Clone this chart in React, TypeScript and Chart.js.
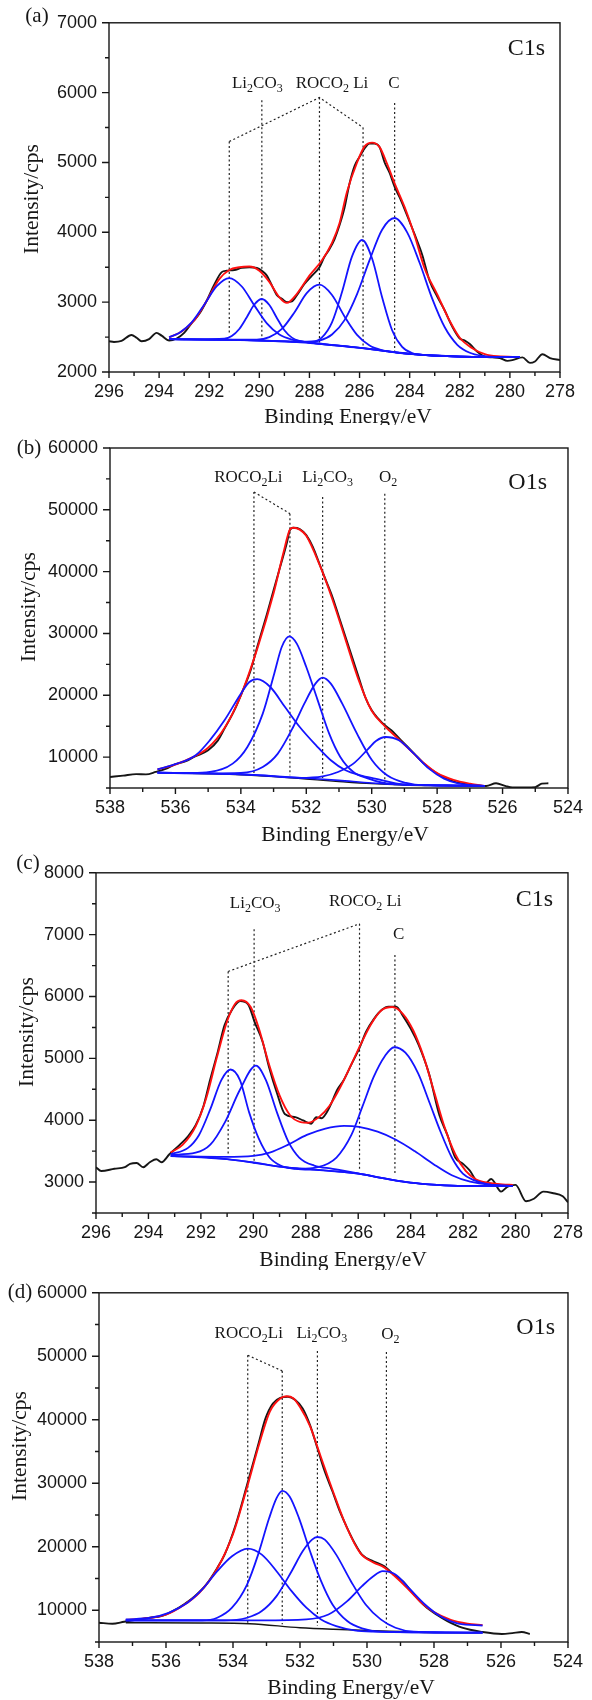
import React, { useEffect, useRef } from "react";
import { Chart, registerables } from "chart.js";

Chart.register(...registerables);

type Pt = [number, number];
type PeakLabel = { text: string; e: number; v: number };

// ================= Panel (a) : C1s =================
const aXTicks = [296, 294, 292, 290, 288, 286, 284, 282, 280, 278];
const aYTicks = [2000, 3000, 4000, 5000, 6000, 7000];
const aRaw: Pt[] = [
  [296, 2440], [295.8, 2430], [295.5, 2445], [295.1, 2530], [294.9, 2490], [294.7, 2440], [294.4, 2470],
  [294.1, 2560], [293.9, 2520], [293.6, 2450], [293.3, 2480], [293.0, 2560], [292.7, 2700], [292.4, 2830],
  [292.1, 3020], [291.8, 3250], [291.5, 3430], [291.3, 3450], [291.0, 3460], [290.7, 3490], [290.4, 3500],
  [290.1, 3490], [289.9, 3450], [289.7, 3380], [289.5, 3240], [289.3, 3100], [289.1, 3050], [288.9, 3000],
  [288.7, 3010], [288.5, 3100], [288.2, 3260], [287.9, 3380], [287.6, 3500], [287.4, 3650], [287.2, 3760],
  [287.0, 3900], [286.8, 4100], [286.6, 4350], [286.4, 4700], [286.2, 4950], [286.0, 5080], [285.8, 5200],
  [285.6, 5270], [285.4, 5270], [285.2, 5220], [285.0, 5000], [284.8, 4850], [284.6, 4650], [284.4, 4500],
  [284.2, 4330], [284.0, 4150], [283.8, 3970], [283.5, 3680], [283.2, 3300], [282.9, 3080], [282.6, 2880],
  [282.3, 2650], [282.0, 2480], [281.8, 2450], [281.6, 2400], [281.3, 2290], [281.0, 2220], [280.7, 2210],
  [280.4, 2200], [280.1, 2160], [279.9, 2170], [279.5, 2210], [279.2, 2130], [279.0, 2150], [278.7, 2255],
  [278.4, 2200], [278.0, 2170],
];
const aFit: Pt[] = [
  [293.6, 2495], [293.1, 2580], [292.6, 2740], [292.1, 3020], [291.6, 3330], [291.2, 3460], [290.8, 3500],
  [290.4, 3510], [290.0, 3450], [289.6, 3290], [289.2, 3070], [288.9, 2990], [288.5, 3120], [288.0, 3380],
  [287.5, 3600], [287.1, 3850], [286.8, 4130], [286.5, 4580], [286.1, 5000], [285.8, 5230], [285.5, 5285],
  [285.2, 5220], [284.9, 4980], [284.6, 4700], [284.2, 4360], [283.8, 3950], [283.4, 3480], [282.9, 3110],
  [282.4, 2730], [282.0, 2490], [281.5, 2340], [281.0, 2255], [280.5, 2225], [279.6, 2215],
];
const aBase: Pt[] = [
  [293.6, 2470], [292.5, 2466], [291.5, 2462], [290.5, 2456], [289.5, 2446], [288.5, 2428], [287.5, 2398],
  [286.5, 2365], [285.5, 2325], [284.5, 2278], [283.5, 2245], [282.5, 2228], [281.5, 2218], [280.5, 2213],
  [279.6, 2212],
];
const aPeak1: Pt[] = [
  [293.6, 2500], [293.2, 2558], [292.7, 2710], [292.2, 2963], [291.7, 3228], [291.2, 3345], [290.7, 3224],
  [290.2, 2954], [289.7, 2696], [289.2, 2537], [288.7, 2465], [288.2, 2432], [287.5, 2400], [286.5, 2366],
  [285.5, 2326], [284.5, 2279], [283.5, 2246], [282.5, 2228], [281.5, 2218], [279.6, 2212],
];
const aPeak2: Pt[] = [
  [293.6, 2470], [292.5, 2466], [291.4, 2476], [291.1, 2516], [290.8, 2616], [290.5, 2785], [290.2, 2966],
  [289.9, 3045], [289.6, 2960], [289.3, 2774], [289.0, 2598], [288.7, 2492], [288.4, 2445], [287.8, 2415],
  [287.0, 2385], [286.5, 2365], [285.5, 2325], [284.5, 2278], [283.5, 2245], [282.5, 2228], [281.5, 2218],
  [279.6, 2212],
];
const aPeak3: Pt[] = [
  [293.6, 2470], [291.5, 2462], [290.1, 2463], [289.6, 2499], [289.1, 2617], [288.6, 2853], [288.1, 3133],
  [287.6, 3250], [287.1, 3103], [286.6, 2795], [286.1, 2531], [285.6, 2378], [285.1, 2311], [284.5, 2278],
  [283.5, 2245], [282.5, 2228], [281.5, 2218], [279.6, 2212],
];
const aPeak4: Pt[] = [
  [293.6, 2470], [291.0, 2460], [289.0, 2438], [287.9, 2435], [287.5, 2496], [287.1, 2711], [286.7, 3145],
  [286.3, 3655], [285.9, 3890], [285.5, 3625], [285.1, 3070], [284.7, 2598], [284.3, 2361], [283.9, 2272],
  [283.3, 2240], [282.5, 2228], [281.5, 2218], [279.6, 2212],
];
const aPeak5: Pt[] = [
  [293.6, 2470], [291.0, 2460], [289.0, 2438], [288.1, 2431], [287.6, 2448], [287.1, 2536], [286.6, 2743],
  [286.1, 3116], [285.6, 3601], [285.1, 4038], [284.6, 4205], [284.1, 4000], [283.6, 3560], [283.1, 3050],
  [282.6, 2640], [282.1, 2390], [281.6, 2275], [281.1, 2230], [280.6, 2215], [279.6, 2212],
];
const aGuides: Pt[][] = [
  [[291.2, 5300], [291.2, 2540]],
  [[289.9, 5890], [289.9, 2450]],
  [[287.6, 5930], [287.6, 2400]],
  [[285.86, 5500], [285.86, 2340]],
  [[284.6, 5850], [284.6, 2270]],
  [[291.2, 5300], [287.6, 5930], [285.86, 5500]],
];
const aPeakLabels: PeakLabel[] = [
  { text: "Li_2CO_3", e: 290.08, v: 6130 },
  { text: "ROCO_2 Li", e: 287.1, v: 6130 },
  { text: "C", e: 284.63, v: 6130 },
];

// ================= Panel (b) : O1s =================
const bXTicks = [538, 536, 534, 532, 530, 528, 526, 524];
const bYTicks = [10000, 20000, 30000, 40000, 50000, 60000];
const bRaw: Pt[] = [
  [538, 6780], [537.6, 7000], [537.2, 7250], [536.9, 7200], [536.6, 7600], [536.3, 8100], [536.0, 8850],
  [535.7, 9300], [535.4, 10100], [535.0, 11100], [534.7, 12700], [534.5, 14600], [534.2, 17560], [534.0, 20000],
  [533.7, 24040], [533.5, 27810], [533.2, 33200], [533.0, 36980], [532.8, 40750], [532.6, 44520], [532.5, 46700],
  [532.4, 47100], [532.2, 46900], [532.0, 45900], [531.8, 43990], [531.6, 41290], [531.4, 38590], [531.2, 35900],
  [531.0, 32660], [530.8, 29430], [530.6, 26190], [530.4, 22960], [530.2, 19720], [530.0, 17560], [529.8, 16220],
  [529.6, 15140], [529.4, 14330], [529.2, 13250], [529.0, 12170], [528.7, 10550], [528.4, 8940], [528.0, 7320],
  [527.6, 6240], [527.2, 5700], [526.8, 5430], [526.5, 5330], [526.2, 5760], [525.9, 5300], [525.7, 5100],
  [525.3, 5100], [525.0, 5150], [524.8, 5700], [524.6, 5760],
];
const bBack: Pt[] = [
  [536.5, 7450], [535.0, 7300], [534.0, 7150], [533.0, 6850], [532.5, 6650], [532.0, 6450], [531.0, 6050],
  [530.0, 5700], [529.0, 5480], [528.0, 5380], [526.55, 5300],
];
const bFit: Pt[] = [
  [536.55, 8000], [536.0, 8800], [535.5, 9900], [535.0, 11500], [534.5, 14700], [534.0, 20000], [533.5, 27500],
  [533.0, 36500], [532.7, 43000], [532.5, 46800], [532.4, 47100], [532.2, 46800], [532.0, 45800], [531.6, 41200],
  [531.2, 35500], [530.8, 29000], [530.4, 22500], [530.0, 17500], [529.6, 15000], [529.2, 13000], [528.8, 11000],
  [528.4, 9000], [528.0, 7400], [527.5, 6300], [527.0, 5700], [526.55, 5350],
];
const bBase: Pt[] = [
  [536.55, 7480], [535.0, 7350], [534.0, 7210], [533.0, 6950], [532.0, 6600], [531.0, 6240], [530.0, 5810],
  [529.0, 5540], [528.0, 5430], [526.55, 5330],
];
const bPeak1: Pt[] = [
  [536.55, 8020], [535.95, 8940], [535.38, 10290], [534.95, 12710], [534.5, 15950], [534.0, 20260],
  [533.74, 22150], [533.5, 22600], [533.1, 21340], [532.65, 18100], [532.2, 14870], [531.7, 11900],
  [531.25, 9480], [530.8, 7860], [530.35, 7050], [529.9, 6510], [529.0, 5560], [528.0, 5440], [526.55, 5330],
];
const bPeak2: Pt[] = [
  [536.55, 7480], [535.5, 7420], [534.95, 7590], [534.25, 8940], [533.8, 11640], [533.33, 17030],
  [532.98, 23500], [532.75, 27810], [532.52, 29530], [532.29, 28350], [532.0, 24570], [531.65, 19180],
  [531.3, 13790], [530.96, 10020], [530.56, 7590], [530.1, 6510], [529.64, 5810], [529.0, 5560], [528.0, 5440],
  [526.55, 5330],
];
const bPeak3: Pt[] = [
  [536.55, 7480], [535.0, 7350], [534.0, 7430], [533.33, 8400], [532.87, 10560], [532.4, 14870],
  [532.06, 18640], [531.72, 21880], [531.5, 22850], [531.25, 21880], [530.9, 18640], [530.45, 13790],
  [529.99, 9480], [529.53, 7050], [528.95, 5810], [528.38, 5430], [527.5, 5400], [526.55, 5330],
];
const bPeak4: Pt[] = [
  [536.55, 7480], [535.0, 7350], [533.5, 7080], [532.2, 6650], [531.5, 6890], [531.03, 7590], [530.56, 8940],
  [530.1, 11370], [529.87, 12600], [529.58, 13250], [529.17, 12710], [528.71, 10560], [528.25, 8130],
  [527.79, 6510], [527.33, 5700], [526.55, 5330],
];
const bGuides: Pt[][] = [
  [[533.6, 52880], [533.6, 7320]],
  [[532.5, 49380], [532.5, 7050]],
  [[533.6, 52880], [532.5, 49380]],
  [[531.5, 52070], [531.5, 6510]],
  [[529.6, 52610], [529.6, 5700]],
];
const bPeakLabels: PeakLabel[] = [
  { text: "ROCO_2Li", e: 533.77, v: 55260 },
  { text: "Li_2CO_3", e: 531.35, v: 55260 },
  { text: "O_2", e: 529.5, v: 55260 },
];

// ================= Panel (c) : C1s =================
const cXTicks = [296, 294, 292, 290, 288, 286, 284, 282, 280, 278];
const cYTicks = [3000, 4000, 5000, 6000, 7000, 8000];
const cRaw: Pt[] = [
  [296, 3240], [295.8, 3178], [295.3, 3215], [294.9, 3240], [294.7, 3293], [294.45, 3308], [294.2, 3240],
  [293.95, 3320], [293.7, 3370], [293.5, 3320], [293.2, 3450], [292.8, 3605], [292.5, 3736], [292.2, 3918],
  [291.9, 4231], [291.65, 4650], [291.35, 5117], [291.1, 5534], [290.8, 5795], [290.5, 5925], [290.2, 5873],
  [289.95, 5586], [289.65, 5274], [289.4, 4857], [289.1, 4440], [288.8, 4101], [288.4, 4049], [288.1, 3996],
  [287.8, 3944], [287.6, 4049], [287.4, 4033], [287.1, 4205], [286.8, 4492], [286.55, 4650], [286.25, 4910],
  [285.95, 5170], [285.7, 5430], [285.4, 5639], [285.1, 5785], [284.85, 5837], [284.55, 5837], [284.3, 5691],
  [284.0, 5482], [283.7, 5222], [283.3, 4753], [282.9, 4075], [282.6, 3762], [282.3, 3397], [282.0, 3293],
  [281.75, 3188], [281.45, 3006], [281.15, 2980], [280.93, 3050], [280.55, 2846], [280.3, 2928], [280.0, 2954],
  [279.6, 2689], [279.3, 2730], [278.94, 2846], [278.6, 2824], [278.2, 2771], [278.0, 2673],
];
const cFit: Pt[] = [
  [293.15, 3480], [292.7, 3600], [292.2, 3900], [291.8, 4350], [291.4, 5000], [291.0, 5600], [290.7, 5880],
  [290.45, 5940], [290.1, 5830], [289.8, 5500], [289.4, 4900], [289.0, 4400], [288.6, 4080], [288.2, 3970],
  [287.9, 3960], [287.5, 4050], [287.1, 4230], [286.7, 4520], [286.3, 4870], [285.9, 5230], [285.5, 5560],
  [285.1, 5780], [284.7, 5830], [284.3, 5720], [283.9, 5450], [283.5, 5020], [283.1, 4450], [282.7, 3880],
  [282.3, 3450], [281.9, 3180], [281.5, 3040], [281.0, 2985], [280.5, 2960], [280.1, 2955],
];
const cBase: Pt[] = [
  [293.15, 3423], [292.0, 3407], [291.0, 3370], [290.0, 3318], [289.0, 3250], [288.0, 3214], [287.0, 3178],
  [286.0, 3136], [285.0, 3058], [284.0, 2990], [283.0, 2954], [282.0, 2938], [280.1, 2938],
];
const cPeak1: Pt[] = [
  [293.15, 3450], [292.49, 3553], [292.07, 3762], [291.64, 4179], [291.22, 4648], [290.87, 4820], [290.51, 4648],
  [290.16, 4127], [289.8, 3710], [289.38, 3397], [288.96, 3267], [288.39, 3214], [287.5, 3195], [286.0, 3136],
  [285.0, 3058], [284.0, 2990], [283.0, 2954], [282.0, 2938], [280.1, 2938],
];
const cPeak2: Pt[] = [
  [293.15, 3440], [292.2, 3475], [291.64, 3605], [291.08, 3970], [290.51, 4492], [289.9, 4883], [289.52, 4648],
  [289.1, 4127], [288.67, 3658], [288.25, 3397], [287.68, 3267], [286.97, 3214], [286.0, 3140], [285.0, 3058],
  [284.0, 2990], [283.0, 2954], [282.0, 2938], [280.1, 2938],
];
const cPeak3: Pt[] = [
  [293.15, 3420], [291.08, 3407], [290.0, 3423], [289.38, 3475], [288.67, 3605], [287.96, 3762], [287.25, 3866],
  [286.54, 3908], [285.97, 3892], [285.26, 3814], [284.56, 3684], [283.85, 3501], [283.14, 3293], [282.43, 3110],
  [281.73, 3006], [280.88, 2954], [280.1, 2938],
];
const cPeak4: Pt[] = [
  [293.15, 3423], [291.0, 3370], [289.0, 3250], [288.25, 3214], [287.54, 3240], [286.83, 3397], [286.26, 3762],
  [285.83, 4231], [285.41, 4700], [284.98, 5039], [284.63, 5180], [284.2, 5091], [283.71, 4753], [283.28, 4283],
  [282.86, 3814], [282.43, 3397], [282.01, 3136], [281.59, 3032], [281.02, 2964], [280.1, 2938],
];
const cGuides: Pt[][] = [
  [[290.96, 6405], [290.96, 3423]],
  [[289.97, 7088], [289.97, 3293]],
  [[285.95, 7176], [285.95, 3214]],
  [[284.6, 6670], [284.6, 3110]],
  [[290.96, 6405], [285.95, 7176]],
];
const cPeakLabels: PeakLabel[] = [
  { text: "Li_2CO_3", e: 289.93, v: 7497 },
  { text: "ROCO_2 Li", e: 285.73, v: 7530 },
  { text: "C", e: 284.46, v: 6994 },
];

// ================= Panel (d) : O1s =================
const dXTicks = [538, 536, 534, 532, 530, 528, 526, 524];
const dYTicks = [10000, 20000, 30000, 40000, 50000, 60000];
const dRaw: Pt[] = [
  [538, 8040], [537.6, 7880], [537.25, 8190], [536.8, 8560], [536.47, 8820], [536.14, 9080], [535.8, 9870],
  [535.47, 10910], [535.14, 12220], [534.8, 14050], [534.47, 16670], [534.25, 18760], [533.92, 23470],
  [533.58, 29750], [533.25, 36030], [533.03, 40220], [532.81, 42570], [532.59, 43460], [532.36, 43620],
  [532.14, 43100], [531.92, 41790], [531.7, 39170], [531.48, 35510], [531.26, 31850], [531.03, 28710],
  [530.81, 25570], [530.59, 22950], [530.37, 20600], [530.15, 18760], [529.81, 17720], [529.48, 16930],
  [529.26, 15890], [528.93, 14580], [528.6, 12490], [528.27, 10650], [527.93, 9340], [527.6, 8300],
  [527.16, 7250], [526.55, 6570], [525.97, 6260], [525.66, 6400], [525.38, 6570], [525.14, 6260],
];
const dBack: Pt[] = [
  [537.2, 8040], [535.0, 8000], [533.5, 7880], [532.0, 7250], [531.0, 7000], [530.0, 6830], [529.0, 6650],
  [528.0, 6470], [526.55, 6450],
];
const dFit: Pt[] = [
  [537.2, 8460], [536.5, 8800], [536.0, 9300], [535.5, 10700], [535.0, 12800], [534.5, 16300], [534.0, 22000],
  [533.6, 29000], [533.2, 36500], [532.9, 41300], [532.6, 43300], [532.4, 43700], [532.2, 43400], [532.0, 42000],
  [531.7, 39000], [531.4, 34500], [531.0, 28500], [530.6, 23000], [530.2, 19000], [529.8, 17500], [529.5, 16800],
  [529.2, 15500], [528.8, 13500], [528.4, 11300], [528.0, 9700], [527.5, 8500], [527.0, 7900], [526.55, 7660],
];
const dPeak1: Pt[] = [
  [537.2, 8560], [536.47, 8820], [535.92, 9600], [535.36, 11180], [534.92, 13270], [534.47, 16150],
  [534.03, 18500], [533.56, 19710], [533.14, 18760], [532.7, 16150], [532.25, 13010], [531.81, 10400],
  [531.37, 8560], [530.92, 7510], [530.37, 6830], [529.81, 6620], [528.0, 6500], [526.55, 6470],
];
const dPeak2: Pt[] = [
  [537.2, 8420], [534.92, 8400], [534.47, 8820], [534.03, 10400], [533.58, 14050], [533.25, 18760],
  [532.92, 24520], [532.7, 27660], [532.53, 28810], [532.31, 27920], [532.03, 24520], [531.7, 19290],
  [531.37, 14580], [531.03, 10910], [530.59, 8300], [530.15, 7150], [529.59, 6620], [528.0, 6500], [526.55, 6470],
];
const dPeak3: Pt[] = [
  [537.2, 8420], [534.25, 8400], [533.58, 8820], [533.14, 9870], [532.7, 12220], [532.25, 16150],
  [531.92, 19290], [531.64, 21120], [531.48, 21540], [531.26, 21120], [530.92, 18760], [530.48, 14580],
  [530.04, 10910], [529.59, 8560], [529.15, 7250], [528.6, 6620], [526.55, 6470],
];
const dPeak4: Pt[] = [
  [537.2, 8400], [533.14, 8400], [531.81, 8560], [531.15, 9340], [530.59, 11440], [530.15, 13790],
  [529.81, 15360], [529.53, 16150], [529.15, 15630], [528.71, 13270], [528.27, 10910], [527.82, 9080],
  [527.27, 7880], [526.55, 7600],
];
const dGuides: Pt[][] = [
  [[533.56, 50160], [533.56, 8040]],
  [[532.53, 47700], [532.53, 7780]],
  [[533.56, 50160], [532.53, 47700]],
  [[531.48, 50840], [531.48, 7510]],
  [[529.42, 50690], [529.42, 7250]],
];
const dPeakLabels: PeakLabel[] = [
  { text: "ROCO_2Li", e: 533.53, v: 53620 },
  { text: "Li_2CO_3", e: 531.35, v: 53620 },
  { text: "O_2", e: 529.3, v: 53400 },
];

const xTitleText = "Binding Energy/eV";
const yTitleText = "Intensity/cps";

// ================= Layout / styling =================
const PAGE_W = 592;
const SANS = '"Liberation Sans", Arial, sans-serif';
const SERIF = '"Liberation Serif", "Times New Roman", serif';
const INK = "#161616";
const RED = "#ff1010";
const BLUE = "#1414ff";

type Panel = {
  tag: string;
  core: string;
  top: number;
  height: number;
  area: { left: number; right: number; top: number; bottom: number };
  xMin: number; xMax: number; xMajor: number; xMinor: number; xTicks: number[];
  yMin: number; yMax: number; yMajor: number; yMinor: number; yTicks: number[];
  raw: Pt[]; back?: Pt[]; fit: Pt[]; base?: Pt[]; peaks: Pt[][]; guides: Pt[][];
  labels: PeakLabel[];
  corePos: [number, number];
  tagPos: [number, number];
  xTitlePos: [number, number];
  yTitlePos: [number, number];
};

const panels: Panel[] = [
  {
    tag: "(a)", core: "C1s", top: 0, height: 425,
    area: { left: 109, right: 560, top: 16, bottom: 372 },
    xMin: 278, xMax: 296, xMajor: 2, xMinor: 1, xTicks: aXTicks,
    yMin: 2000, yMax: 7000, yMajor: 1000, yMinor: 500, yTicks: aYTicks,
    raw: aRaw, fit: aFit, base: aBase, peaks: [aPeak1, aPeak2, aPeak3, aPeak4, aPeak5], guides: aGuides,
    labels: aPeakLabels, corePos: [545, 49], tagPos: [37, 16], xTitlePos: [348, 417], yTitlePos: [32, 199],
  },
  {
    tag: "(b)", core: "O1s", top: 425, height: 425,
    area: { left: 110, right: 570, top: 23, bottom: 363 },
    xMin: 524, xMax: 538, xMajor: 2, xMinor: 1, xTicks: bXTicks,
    yMin: 5000, yMax: 60000, yMajor: 10000, yMinor: 5000, yTicks: bYTicks,
    raw: bRaw, back: bBack, fit: bFit, base: bBase, peaks: [bPeak1, bPeak2, bPeak3, bPeak4], guides: bGuides,
    labels: bPeakLabels, corePos: [547, 58], tagPos: [29, 23], xTitlePos: [345, 410], yTitlePos: [29, 182],
  },
  {
    tag: "(c)", core: "C1s", top: 850, height: 420,
    area: { left: 96, right: 575, top: 13, bottom: 363 },
    xMin: 278, xMax: 296, xMajor: 2, xMinor: 1, xTicks: cXTicks,
    yMin: 2500, yMax: 8000, yMajor: 1000, yMinor: 500, yTicks: cYTicks,
    raw: cRaw, fit: cFit, base: cBase, peaks: [cPeak1, cPeak2, cPeak3, cPeak4], guides: cGuides,
    labels: cPeakLabels, corePos: [553, 50], tagPos: [28, 13], xTitlePos: [343, 410], yTitlePos: [27, 182],
  },
  {
    tag: "(d)", core: "O1s", top: 1270, height: 430,
    area: { left: 99, right: 576, top: 21, bottom: 372 },
    xMin: 524, xMax: 538, xMajor: 2, xMinor: 1, xTicks: dXTicks,
    yMin: 5000, yMax: 60000, yMajor: 10000, yMinor: 5000, yTicks: dYTicks,
    raw: dRaw, back: dBack, fit: dFit, peaks: [dPeak1, dPeak2, dPeak3, dPeak4], guides: dGuides,
    labels: dPeakLabels, corePos: [555, 58], tagPos: [20, 22], xTitlePos: [351, 418], yTitlePos: [20, 176],
  },
];

function toXY(pts: Pt[]) {
  return pts.map(([x, y]) => ({ x, y }));
}

function drawChem(ctx: CanvasRenderingContext2D, text: string, x: number, y: number, size: number, align: "center" | "right" | "left") {
  const parts: { t: string; sub: boolean }[] = [];
  for (let i = 0; i < text.length; i++) {
    if (text[i] === "_" && i + 1 < text.length) {
      parts.push({ t: text[i + 1], sub: true });
      i++;
    } else {
      const last = parts[parts.length - 1];
      if (last && !last.sub) last.t += text[i];
      else parts.push({ t: text[i], sub: false });
    }
  }
  const big = `${size}px ${SERIF}`;
  const small = `${Math.round(size * 0.72)}px ${SERIF}`;
  let total = 0;
  const widths = parts.map((p) => {
    ctx.font = p.sub ? small : big;
    const w = ctx.measureText(p.t).width;
    total += w;
    return w;
  });
  let cx = align === "center" ? x - total / 2 : align === "right" ? x - total : x;
  ctx.textAlign = "left";
  ctx.textBaseline = "middle";
  parts.forEach((p, i) => {
    ctx.font = p.sub ? small : big;
    ctx.fillText(p.t, cx, p.sub ? y + size * 0.3 : y);
    cx += widths[i];
  });
}

function makeOverlay(p: Panel) {
  return {
    id: "overlay",
    afterDraw(chart: any) {
      const { ctx, chartArea: a, scales } = chart;
      const xs = scales.x;
      const ys = scales.y;
      ctx.save();
      ctx.strokeStyle = INK;
      ctx.lineWidth = 1.4;
      ctx.strokeRect(a.left, a.top, a.right - a.left, a.bottom - a.top);
      ctx.beginPath();
      for (let v = p.xMin; v <= p.xMax + 1e-9; v += p.xMinor) {
        const px = xs.getPixelForValue(v);
        const major = Math.abs(v / p.xMajor - Math.round(v / p.xMajor)) < 1e-6;
        ctx.moveTo(px, a.bottom);
        ctx.lineTo(px, a.bottom + (major ? 6 : 4));
      }
      for (let v = p.yMin; v <= p.yMax + 1e-9; v += p.yMinor) {
        const py = ys.getPixelForValue(v);
        const major = Math.abs(v / p.yMajor - Math.round(v / p.yMajor)) < 1e-6;
        ctx.moveTo(a.left, py);
        ctx.lineTo(a.left - (major ? 7 : 4), py);
      }
      ctx.stroke();
      ctx.fillStyle = INK;
      p.labels.forEach((l) => {
        drawChem(ctx, l.text, xs.getPixelForValue(l.e), ys.getPixelForValue(l.v), 17, "center");
      });
      drawChem(ctx, p.core, p.corePos[0], p.corePos[1], 24, "right");
      ctx.font = `21px ${SERIF}`;
      ctx.textAlign = "center";
      ctx.textBaseline = "middle";
      ctx.fillText(p.tag, p.tagPos[0], p.tagPos[1]);
      ctx.font = `21.5px ${SERIF}`;
      ctx.fillText(xTitleText, p.xTitlePos[0], p.xTitlePos[1]);
      ctx.save();
      ctx.translate(p.yTitlePos[0], p.yTitlePos[1]);
      ctx.rotate(-Math.PI / 2);
      ctx.fillText(yTitleText, 0, 0);
      ctx.restore();
      ctx.restore();
    },
  };
}

function PanelChart({ p }: { p: Panel }) {
  const ref = useRef<HTMLCanvasElement | null>(null);
  useEffect(() => {
    if (!ref.current) return;
    const curve = (pts: Pt[], color: string, order: number, width = 1.8) => ({
      data: toXY(pts),
      borderColor: color,
      borderWidth: width,
      pointRadius: 0,
      fill: false,
      cubicInterpolationMode: "monotone" as const,
      order,
    });
    const datasets: any[] = [];
    p.guides.forEach((g) =>
      datasets.push({
        data: toXY(g), borderColor: "#222", borderWidth: 1.2, borderDash: [2, 2.5], pointRadius: 0,
        tension: 0, fill: false, order: 6,
      })
    );
    if (p.back) datasets.push(curve(p.back, INK, 5, 1.4));
    datasets.push(curve(p.raw, INK, 4, 1.9));
    datasets.push(curve(p.fit, RED, 3, 1.9));
    if (p.base) datasets.push(curve(p.base, BLUE, 2, 1.6));
    p.peaks.forEach((pk) => datasets.push(curve(pk, BLUE, 1, 1.8)));

    const tickFont = { family: SANS, size: 18 };
    const chart = new Chart(ref.current, {
      type: "line",
      data: { datasets },
      options: {
        animation: false,
        responsive: false,
        maintainAspectRatio: false,
        devicePixelRatio: 1,
        layout: { padding: { left: 0, right: PAGE_W - p.area.right, top: p.area.top, bottom: 0 } },
        plugins: { legend: { display: false }, tooltip: { enabled: false } },
        elements: { point: { radius: 0 } },
        scales: {
          x: {
            type: "linear",
            reverse: true,
            min: p.xMin,
            max: p.xMax,
            grid: { display: false, drawTicks: false },
            border: { display: false },
            ticks: { font: tickFont, color: INK, padding: 9, autoSkip: false, maxRotation: 0, callback: (v: any) => String(v) },
            afterBuildTicks: (s: any) => { s.ticks = p.xTicks.map((v) => ({ value: v })); },
            afterFit: (s: any) => { s.height = p.height - p.area.bottom; },
          },
          y: {
            type: "linear",
            min: p.yMin,
            max: p.yMax,
            grid: { display: false, drawTicks: false },
            border: { display: false },
            ticks: { font: tickFont, color: INK, padding: 12, autoSkip: false, callback: (v: any) => String(v) },
            afterBuildTicks: (s: any) => { s.ticks = p.yTicks.map((v) => ({ value: v })); },
            afterFit: (s: any) => { s.width = p.area.left; },
          },
        },
      } as any,
      plugins: [makeOverlay(p)],
    });
    return () => chart.destroy();
  }, [p]);
  return (
    <canvas
      ref={ref}
      width={PAGE_W}
      height={p.height}
      style={{ position: "absolute", left: 0, top: p.top, width: PAGE_W, height: p.height, display: "block" }}
    />
  );
}

export default function App() {
  return (
    <div style={{ position: "absolute", left: 0, top: 0, width: PAGE_W, height: 1700, background: "#fff" }}>
      {panels.map((p) => (
        <PanelChart key={p.tag} p={p} />
      ))}
    </div>
  );
}
